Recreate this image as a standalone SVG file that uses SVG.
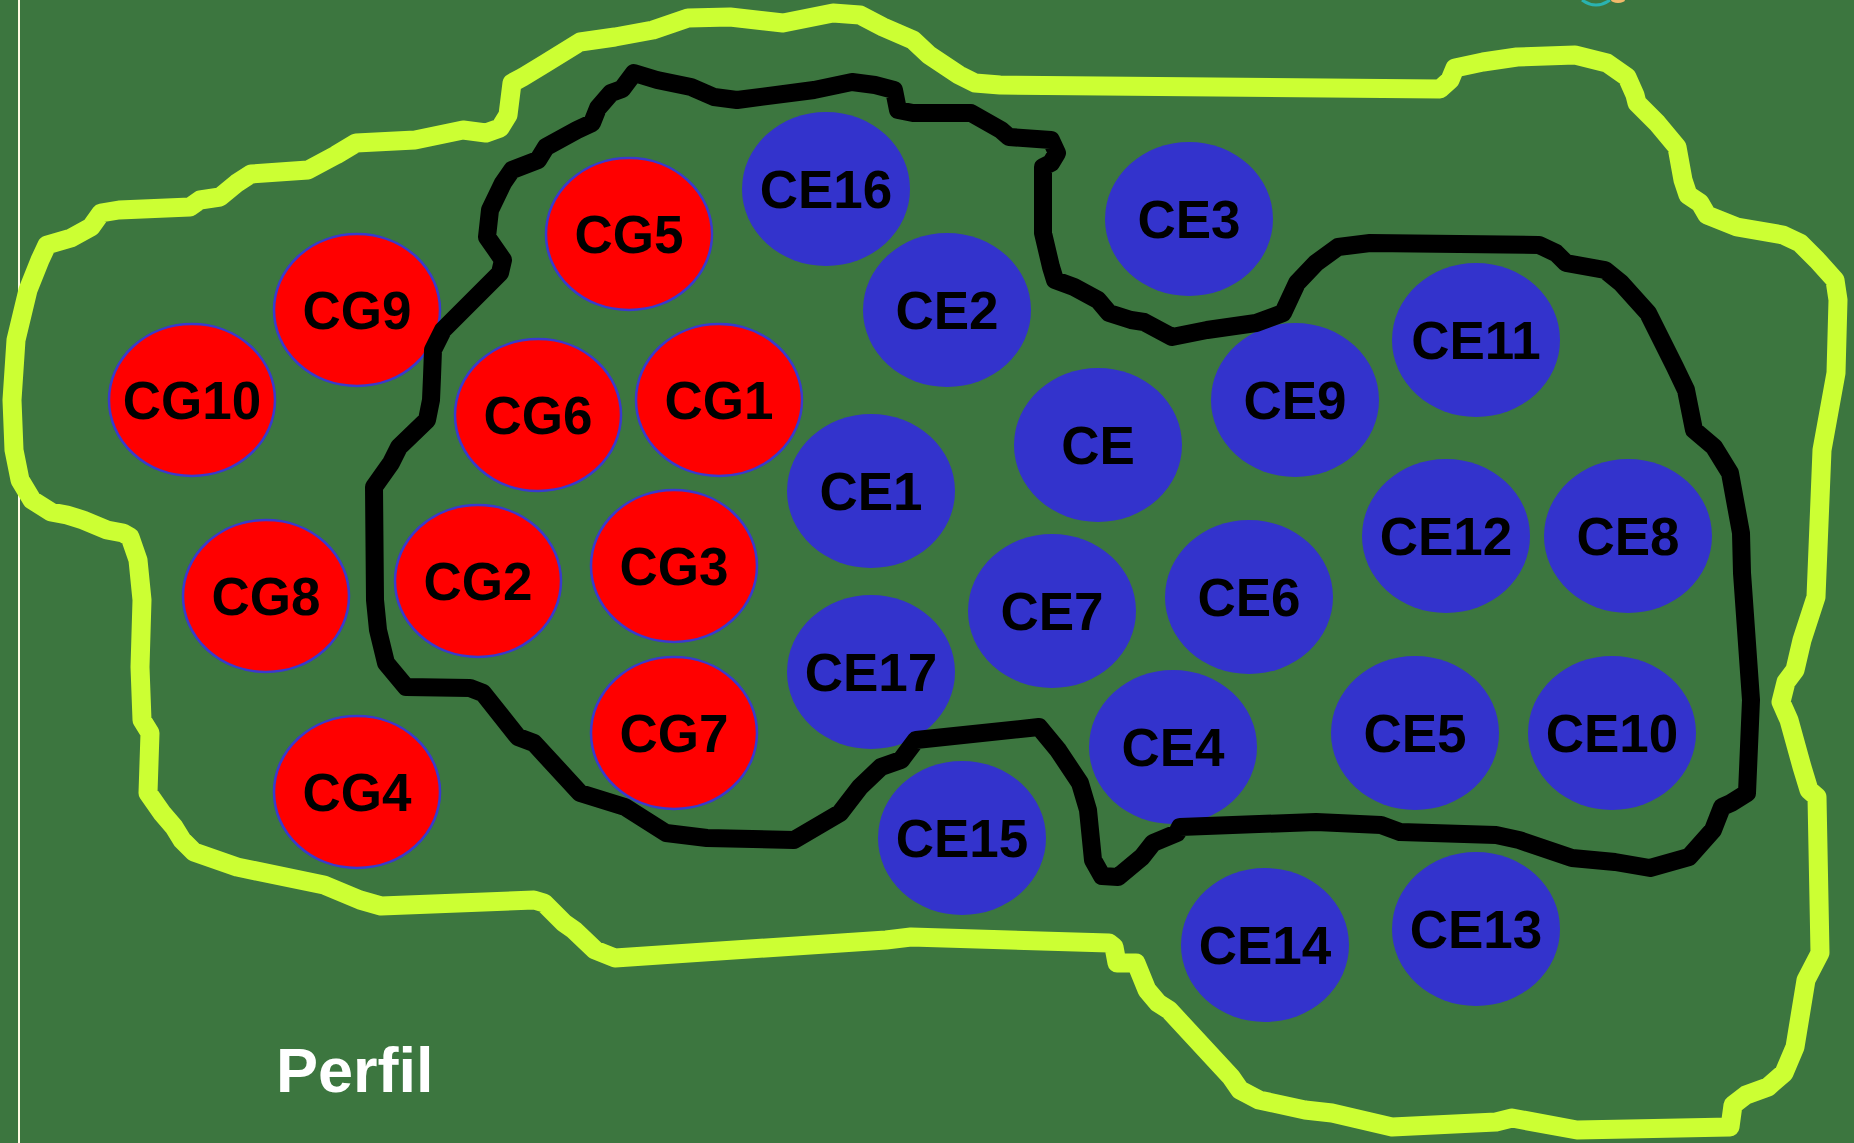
<svg xmlns="http://www.w3.org/2000/svg" width="1854" height="1143" viewBox="0 0 1854 1143">
<defs>
<style>
.bg{fill:#3c763f}
.cg{fill:#ff0000;stroke:#3a3acc;stroke-width:2.5}
.ce{fill:#3333cc}
.lbl{font-family:"Liberation Sans",Arial,sans-serif;font-weight:bold;font-size:53px;fill:#000;text-anchor:middle}
.lime{fill:none;stroke:#ccff33;stroke-width:19;stroke-linejoin:round;stroke-linecap:round}
.blk{fill:none;stroke:#000;stroke-width:18;stroke-linejoin:round;stroke-linecap:round}
</style>
</defs>
<rect class="bg" x="0" y="0" width="1854" height="1143"/>
<line x1="19" y1="0" x2="19" y2="1143" stroke="#fffbe3" stroke-width="2"/>
<path d="M1582,0 Q1596,10 1610,0" fill="none" stroke="#2ab3b0" stroke-width="3"/>
<ellipse cx="1618" cy="0" rx="7" ry="3" fill="#f2b96a"/>

<g id="nodes">
<g id="CG5"><ellipse class="cg" cx="629" cy="234" rx="83" ry="76"/><text class="lbl" x="629" y="253">CG5</text></g>
<g id="CE16"><ellipse class="ce" cx="826" cy="189" rx="84" ry="77"/><text class="lbl" x="826" y="208">CE16</text></g>
<g id="CE2"><ellipse class="ce" cx="947" cy="310" rx="84" ry="77"/><text class="lbl" x="947" y="329">CE2</text></g>
<g id="CE3"><ellipse class="ce" cx="1189" cy="219" rx="84" ry="77"/><text class="lbl" x="1189" y="238">CE3</text></g>
<g id="CG9"><ellipse class="cg" cx="357" cy="310" rx="83" ry="76"/><text class="lbl" x="357" y="329">CG9</text></g>
<g id="CG10"><ellipse class="cg" cx="192" cy="400" rx="83" ry="76"/><text class="lbl" x="192" y="419">CG10</text></g>
<g id="CG6"><ellipse class="cg" cx="538" cy="415" rx="83" ry="76"/><text class="lbl" x="538" y="434">CG6</text></g>
<g id="CG1"><ellipse class="cg" cx="719" cy="400" rx="83" ry="76"/><text class="lbl" x="719" y="419">CG1</text></g>
<g id="CE11"><ellipse class="ce" cx="1476" cy="340" rx="84" ry="77"/><text class="lbl" x="1476" y="359">CE11</text></g>
<g id="CE9"><ellipse class="ce" cx="1295" cy="400" rx="84" ry="77"/><text class="lbl" x="1295" y="419">CE9</text></g>
<g id="CE"><ellipse class="ce" cx="1098" cy="445" rx="84" ry="77"/><text class="lbl" x="1098" y="464">CE</text></g>
<g id="CE1"><ellipse class="ce" cx="871" cy="491" rx="84" ry="77"/><text class="lbl" x="871" y="510">CE1</text></g>
<g id="CE12"><ellipse class="ce" cx="1446" cy="536" rx="84" ry="77"/><text class="lbl" x="1446" y="555">CE12</text></g>
<g id="CE8"><ellipse class="ce" cx="1628" cy="536" rx="84" ry="77"/><text class="lbl" x="1628" y="555">CE8</text></g>
<g id="CG8"><ellipse class="cg" cx="266" cy="596" rx="83" ry="76"/><text class="lbl" x="266" y="615">CG8</text></g>
<g id="CG2"><ellipse class="cg" cx="478" cy="581" rx="83" ry="76"/><text class="lbl" x="478" y="600">CG2</text></g>
<g id="CG3"><ellipse class="cg" cx="674" cy="566" rx="83" ry="76"/><text class="lbl" x="674" y="585">CG3</text></g>
<g id="CE7"><ellipse class="ce" cx="1052" cy="611" rx="84" ry="77"/><text class="lbl" x="1052" y="630">CE7</text></g>
<g id="CE6"><ellipse class="ce" cx="1249" cy="597" rx="84" ry="77"/><text class="lbl" x="1249" y="616">CE6</text></g>
<g id="CE17"><ellipse class="ce" cx="871" cy="672" rx="84" ry="77"/><text class="lbl" x="871" y="691">CE17</text></g>
<g id="CG7"><ellipse class="cg" cx="674" cy="733" rx="83" ry="76"/><text class="lbl" x="674" y="752">CG7</text></g>
<g id="CE4"><ellipse class="ce" cx="1173" cy="747" rx="84" ry="77"/><text class="lbl" x="1173" y="766">CE4</text></g>
<g id="CE5"><ellipse class="ce" cx="1415" cy="733" rx="84" ry="77"/><text class="lbl" x="1415" y="752">CE5</text></g>
<g id="CE10"><ellipse class="ce" cx="1612" cy="733" rx="84" ry="77"/><text class="lbl" x="1612" y="752">CE10</text></g>
<g id="CG4"><ellipse class="cg" cx="357" cy="792" rx="83" ry="76"/><text class="lbl" x="357" y="811">CG4</text></g>
<g id="CE15"><ellipse class="ce" cx="962" cy="838" rx="84" ry="77"/><text class="lbl" x="962" y="857">CE15</text></g>
<g id="CE14"><ellipse class="ce" cx="1265" cy="945" rx="84" ry="77"/><text class="lbl" x="1265" y="964">CE14</text></g>
<g id="CE13"><ellipse class="ce" cx="1476" cy="929" rx="84" ry="77"/><text class="lbl" x="1476" y="948">CE13</text></g>
</g>

<g id="connectors">
<path id="outer-boundary" class="lime" d="M47,245 L71,238 L91,227 L101,213 L119,210 L190,207 L200,200 L220,197 L237,183 L251,174 L308,170 L336,155 L356,143 L415,140 L463,130 L486,133 L500,128 L508,115 L512,83 L523,77 L546,63 L580,42 L615,37 L653,30 L688,18 L730,17 L783,23 L833,13 L860,15 L883,27 L913,40 L929,55 L959,75 L975,83 L1000,85 L1440,89 L1450,80 L1455,68 L1483,62 L1517,57 L1575,55 L1607,63 L1627,77 L1635,95 L1637,103 L1657,123 L1677,147 L1683,180 L1688,195 L1700,203 L1707,215 L1737,227 L1783,235 L1800,243 L1817,260 L1835,280 L1838,300 L1836,373 L1822,450 L1816,597 L1802,640 L1795,670 L1786,682 L1781,702 L1789,720 L1802,767 L1809,790 L1817,797 L1820,953 L1806,980 L1795,1047 L1784,1073 L1768,1087 L1746,1095 L1733,1105 L1730,1127 L1577,1130 L1512,1118 L1496,1122 L1392,1127 L1332,1113 L1305,1110 L1259,1100 L1240,1090 L1231,1077 L1169,1010 L1158,1003 L1147,990 L1136,963 L1117,963 L1114,947 L1109,943 L911,937 L886,940 L615,958 L595,950 L574,930 L564,923 L544,903 L534,900 L381,906 L360,900 L324,885 L237,867 L194,852 L182,840 L174,827 L162,813 L148,793 L150,733 L142,720 L140,667 L142,600 L138,560 L130,537 L123,533 L107,530 L83,520 L67,515 L51,512 L32,500 L20,480 L14,450 L12,400 L16,340 L28,290 L40,260 Z"/>
<path id="inner-boundary" class="blk" d="M634,73 L657,80 L691,87 L714,97 L737,100 L814,90 L852,82 L875,85 L894,90 L896,100 L898,110 L913,113 L971,113 L1001,130 L1009,137 L1051,140 L1057,153 L1051,163 L1043,167 L1043,233 L1051,267 L1055,280 L1074,287 L1098,300 L1109,313 L1131,320 L1144,322 L1172,337 L1207,330 L1256,323 L1283,313 L1297,283 L1316,263 L1338,247 L1370,243 L1539,245 L1556,253 L1566,263 L1605,270 L1621,283 L1648,313 L1675,367 L1686,390 L1694,430 L1714,447 L1730,473 L1741,533 L1742,573 L1743,587 L1751,700 L1747,793 L1731,803 L1722,807 L1713,830 L1689,857 L1650,868 L1615,862 L1572,858 L1519,840 L1496,835 L1400,832 L1381,825 L1316,822 L1180,827 L1177,833 L1153,843 L1142,857 L1118,877 L1102,876 L1093,860 L1088,810 L1080,783 L1068,765 L1058,750 L1039,727 L916,740 L901,760 L881,767 L860,787 L840,813 L794,840 L707,838 L666,833 L625,807 L580,793 L534,743 L518,737 L483,693 L470,688 L406,687 L386,663 L378,630 L375,600 L374,487 L391,463 L399,447 L427,420 L431,400 L432,377 L433,350 L443,330 L473,300 L500,273 L503,260 L487,237 L490,210 L503,183 L512,170 L538,160 L546,147 L577,130 L592,123 L598,108 L611,93 L622,89 Z"/>
</g>

<text x="276" y="1092" font-family="'Liberation Sans',Arial,sans-serif" font-weight="bold" font-size="63" fill="#ffffff">Perfil</text>
</svg>
